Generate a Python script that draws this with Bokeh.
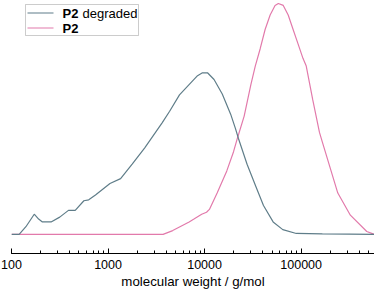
from bokeh.plotting import figure
from bokeh.models import (ColumnDataSource, Range1d, LogTickFormatter, BoxAnnotation,
                          PolyAnnotation, Label, LogTicker)
from bokeh.embed import file_html
from bokeh.resources import INLINE

# ---- data ----
deg_mw = [100, 120, 141, 172, 191, 209, 257, 316, 389, 457, 562, 631, 741, 1047, 1349,
          1778, 2399, 3631, 4345, 5495, 6950, 8453, 9506, 10715, 12531, 15241, 18621,
          20893, 22387, 27542, 33884, 40738, 51286, 64565, 89125, 165959, 316228, 575440]
deg_int = [0, 0, 8, 21, 16, 13, 13, 18, 25, 25, 35, 36, 41, 53, 58,
           73, 90, 116, 128, 145, 156, 165, 168, 168, 161, 146, 125,
           110, 100, 73, 50, 30, 13, 5, 1, 0.5, 0.3, 0]

p2_mw = [100, 3715, 4677, 6918, 7762, 9333, 10471, 11220, 13490, 16982, 19953, 21878,
         25704, 30200, 33497, 37670, 42364, 47753, 53703, 58076, 65313, 73451, 82604,
         92897, 104472, 112980, 131826, 154882, 165959, 239883, 323594, 478630, 575440]
p2_int = [0, 0, 4, 13, 16, 21, 23, 26, 43, 66, 86, 100,
          123, 156, 175, 193, 213, 228, 238, 240, 238, 228, 213,
          198, 183, 175, 140, 106, 96, 43, 20, 3, 0]

peak = 240.0
deg_y = [v / peak for v in deg_int]
p2_y = [v / peak for v in p2_int]

legend_labels = ["degraded", ""]
axis_title = "molecular weight / g/mol"

FONT = "Liberation Sans"
DEG_COLOR = "#5f7d89"
P2_COLOR = "#e27aab"

p = figure(width=374, height=291, x_axis_type="log",
           x_range=Range1d(100, 575440), y_range=Range1d(-0.0826, 1.013),
           output_backend="svg", toolbar_location=None,
           min_border_left=11, min_border_right=0, min_border_top=0,
           min_border_bottom=0)

p.line(x="mw", y="y", source=ColumnDataSource(dict(mw=p2_mw, y=p2_y)),
       line_color=P2_COLOR, line_width=1.2)
p.line(x="mw", y="y", source=ColumnDataSource(dict(mw=deg_mw, y=deg_y)),
       line_color=DEG_COLOR, line_width=1.2)

p.yaxis.visible = False
p.grid.visible = False
p.outline_line_color = None

ax = p.xaxis[0]
ax.ticker = LogTicker(num_minor_ticks=10)
ax.formatter = LogTickFormatter(min_exponent=10)
ax.major_tick_in = 5
ax.major_tick_out = 0
ax.minor_tick_in = 3
ax.minor_tick_out = 0
ax.axis_line_color = "black"
ax.major_tick_line_color = "black"
ax.minor_tick_line_color = "black"
ax.major_label_text_font = FONT
ax.major_label_text_font_size = "12.5px"
ax.major_label_text_color = "black"
ax.major_label_standoff = 6
ax.axis_label = axis_title
ax.axis_label_text_font = FONT
ax.axis_label_text_font_size = "13.3px"
ax.axis_label_text_font_style = "normal"
ax.axis_label_text_color = "black"
ax.axis_label_standoff = 2

# ---- legend drawn by hand (bold "P2" + normal text) ----
p.add_layout(BoxAnnotation(left=14, right=127, top=249, bottom=218,
                           left_units="screen", right_units="screen",
                           top_units="screen", bottom_units="screen",
                           fill_color="white", fill_alpha=1,
                           line_color="#555555", line_width=1))
rows = [(240.5, DEG_COLOR), (225.5, P2_COLOR)]
for (yy, col), extra in zip(rows, legend_labels):
    p.add_layout(PolyAnnotation(xs=[16, 42, 42, 16], ys=[yy, yy, yy, yy],
                                xs_units="screen", ys_units="screen",
                                fill_alpha=0, line_color=col, line_alpha=1,
                                line_width=1.2))
    p.add_layout(Label(x=51, y=yy, x_units="screen", y_units="screen", text="P2",
                       text_font=FONT, text_font_size="13px", text_font_style="bold",
                       text_baseline="middle", text_color="black"))
    if extra:
        p.add_layout(Label(x=71, y=yy, x_units="screen", y_units="screen", text=extra,
                           text_font=FONT, text_font_size="13px",
                           text_baseline="middle", text_color="black"))

open("out.html", "w").write(file_html(p, INLINE))
